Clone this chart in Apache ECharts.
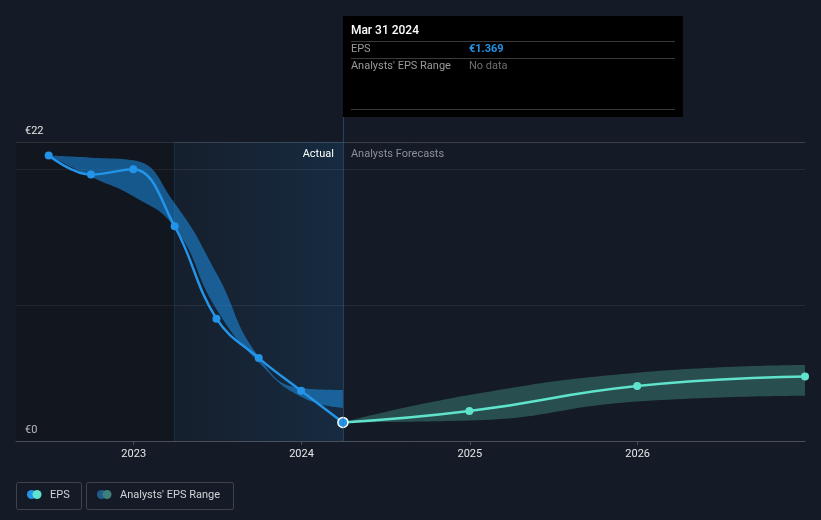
<!DOCTYPE html>
<html><head><meta charset="utf-8">
<script src="https://cdn.jsdelivr.net/npm/echarts@6/dist/echarts.min.js"></script>
<style>html,body{margin:0;padding:0;background:#151b26;}#c{width:821px;height:520px;}</style>
</head><body><div id="c"></div><script>
const actualDates = ['2022-06-30','2022-09-30','2022-12-31','2023-03-31','2023-06-30','2023-09-30','2023-12-31','2024-03-31'];
const actualEps = [21.0, 19.6, 20.0, 15.8, 9.0, 6.1, 3.7, 1.369];
const rangeLow = [21.0, 19.45, 18.0, 15.7, 9.7, 5.8, 3.25, 2.43];
const rangeHigh = [21.0, 20.85, 20.66, 17.5, 12.35, 6.2, 3.9, 3.75];
const forecastDates = ['2024-03-31','2024-12-31','2025-12-31','2026-12-31'];
const forecastEps = [1.369, 2.2, 4.05, 4.75];
const forecastLow = [1.369, 1.5, 2.9, 3.33];
const forecastHigh = [1.369, 3.38, 5.02, 5.59];
const yearTicks = [2023, 2024, 2025, 2026];
const yLabelValues = [0, 22];
const axisStart = '2022-04-20';
const axisEnd = '2026-12-31';
const actualStart = '2023-03-31';
const currentDate = '2024-03-31';
const tooltipTitle = 'Mar 31 2024';

function ts(d){ const p = d.split('-').map(Number); return new Date(p[0], p[1]-1, p[2]).getTime(); }
const yearTs = yearTicks.map(y => new Date(y, 0, 1).getTime());
const FONT = 'Roboto, "Noto Sans", sans-serif';

const chart = echarts.init(document.getElementById('c'), null, {renderer:'canvas'});
const pairs = (dates, vals) => dates.map((d,i) => [ts(d), vals[i]]);
const diffs = (dates, lo, hi) => dates.map((d,i) => [ts(d), +(hi[i]-lo[i]).toFixed(4)]);

const actualData = actualDates.map((d,i) => {
  const item = {value:[ts(d), actualEps[i]]};
  if (i === actualDates.length-1) { item.symbolSize = 10; item.itemStyle = {borderColor:'#ffffff', borderWidth:1.5}; }
  return item;
});
const forecastData = forecastDates.map((d,i) => {
  const item = {value:[ts(d), forecastEps[i]]};
  if (i === 0) item.symbol = 'none';
  return item;
});
const band = {smooth:true, symbol:'none', silent:true, lineStyle:{opacity:0}, z:2};

chart.setOption({
  backgroundColor:'#151b26',
  animation:false,
  textStyle:{fontFamily:FONT},
  grid:{left:16, right:16, top:142, bottom:79, containLabel:false},
  xAxis:[{
    type:'time', min:ts(axisStart), max:ts(axisEnd),
    axisLine:{show:true, lineStyle:{color:'#4a4f59', width:1}},
    axisTick:{show:false}, axisLabel:{show:false}, splitLine:{show:false}
  },{
    type:'value', position:'bottom', offset:0, min:ts(axisStart), max:ts(axisEnd),
    axisLine:{show:false},
    axisTick:{show:true, length:4, customValues:yearTs, lineStyle:{color:'#4a4f59'}},
    axisLabel:{customValues:yearTs, formatter:v => String(new Date(v).getFullYear()), color:'#e6e6e6', fontSize:11, margin:8, fontFamily:FONT},
    splitLine:{show:false}
  }],
  yAxis:{
    type:'value', min:0, max:22, interval:10,
    axisLine:{show:false}, axisTick:{show:false},
    axisLabel:{inside:true, margin:9, verticalAlign:'bottom', padding:[0,0,5,0], color:'#e6e6e6', fontSize:11, fontFamily:FONT,
      formatter:v => yLabelValues.indexOf(v) >= 0 ? '€' + v : ''},
    splitLine:{show:true, lineStyle:{color:['#262c37','#262c37','#262c37','#3a3f49'], width:1}}
  },
  series:[
    Object.assign({type:'line', name:'histLow', stack:'hist', data:pairs(actualDates, rangeLow)}, band),
    Object.assign({type:'line', name:'histBand', stack:'hist', areaStyle:{color:'rgba(30,144,230,0.55)', opacity:1},
      data:diffs(actualDates, rangeLow, rangeHigh)}, band),
    Object.assign({type:'line', name:'fLow', stack:'fc', data:pairs(forecastDates, forecastLow)}, band),
    Object.assign({type:'line', name:'fBand', stack:'fc', areaStyle:{color:'rgba(88,200,180,0.3)', opacity:1},
      data:diffs(forecastDates, forecastLow, forecastHigh)}, band),
    {type:'line', name:'Forecast', smooth:true, symbol:'circle', symbolSize:8,
      lineStyle:{color:'#5fe3cc', width:2.5}, itemStyle:{color:'#5fe3cc'}, data:forecastData, z:4},
    {type:'line', name:'EPS', smooth:0.4, symbol:'circle', symbolSize:8,
      lineStyle:{color:'#2394e8', width:2.5}, itemStyle:{color:'#2394e8'}, data:actualData, z:5,
      markArea:{silent:true, data:[
        [{xAxis:ts(axisStart), itemStyle:{color:'rgba(5,6,10,0.22)'}}, {xAxis:ts(actualStart)}],
        [{xAxis:ts(actualStart), itemStyle:{color:{type:'linear', x:0, y:0, x2:1, y2:0, colorStops:[
          {offset:0, color:'rgba(33,150,243,0.03)'}, {offset:1, color:'rgba(33,150,243,0.13)'}]}}}, {xAxis:ts(currentDate)}]
      ]},
      markLine:{silent:true, symbol:'none', label:{show:false},
        data:[{xAxis:ts(actualStart), lineStyle:{color:'rgba(33,150,243,0.18)', type:'solid', width:1}}]}
    }
  ]
});

const px = chart.convertToPixel({xAxisIndex:0}, ts(currentDate));
const gridBottom = 441;
const bx = px, by = 16, bw = 340, bh = 101;
const t = (x, y, text, fill, size, weight, align) => ({type:'text', x:x, y:y, silent:true, z:100,
  style:{text:text, fill:fill, font:(weight||'normal') + ' ' + size + 'px ' + FONT, align:align||'left', verticalAlign:'middle'}});
const ln = (x1,y1,x2,y2,c) => ({type:'line', silent:true, z:100, shape:{x1:x1,y1:y1,x2:x2,y2:y2}, style:{stroke:c, lineWidth:1}});

const g = [
  ln(px+0.5, by+bh, px+0.5, gridBottom, 'rgba(60,110,160,0.5)'),
  {type:'rect', silent:true, z:99, shape:{x:bx, y:by, width:bw, height:bh}, style:{fill:'#000000'}},
  t(bx+8, 31, tooltipTitle, '#ffffff', 12, '500'),
  ln(bx+8, 41.5, bx+332, 41.5, '#3a3a3a'),
  t(bx+8, 49, 'EPS', '#9a9a9a', 11),
  t(bx+126, 49, '€' + actualEps[actualEps.length-1].toFixed(3), '#2394e8', 11, 'bold'),
  ln(bx+8, 58.5, bx+332, 58.5, '#3a3a3a'),
  t(bx+8, 66, "Analysts' EPS Range", '#9a9a9a', 11),
  t(bx+126, 66, 'No data', '#6f6f6f', 11),
  ln(bx+8, 109.5, bx+332, 109.5, '#3a3a3a'),
  t(px-9, 154, 'Actual', '#ffffff', 11, 'normal', 'right'),
  t(px+8, 154, 'Analysts Forecasts', '#8a8f98', 11),
  {type:'rect', silent:true, shape:{x:16.5, y:482.5, width:65, height:27, r:2}, style:{fill:'none', stroke:'#3e434c', lineWidth:1}},
  {type:'circle', silent:true, shape:{cx:31.5, cy:494.5, r:4.5}, style:{fill:'#2394e8'}},
  {type:'circle', silent:true, shape:{cx:37, cy:494.5, r:4.5}, style:{fill:'#5fe3cc'}},
  t(50, 495, 'EPS', '#d0d3d8', 11),
  {type:'rect', silent:true, shape:{x:86.5, y:482.5, width:147, height:27, r:2}, style:{fill:'none', stroke:'#3e434c', lineWidth:1}},
  {type:'circle', silent:true, shape:{cx:101.5, cy:494.5, r:4.5}, style:{fill:'#1f5a8a'}},
  {type:'circle', silent:true, shape:{cx:107, cy:494.5, r:4.5}, style:{fill:'#3d7f7a'}},
  t(120, 495, "Analysts' EPS Range", '#d0d3d8', 11)
];
chart.setOption({graphic:g});
</script></body></html>
